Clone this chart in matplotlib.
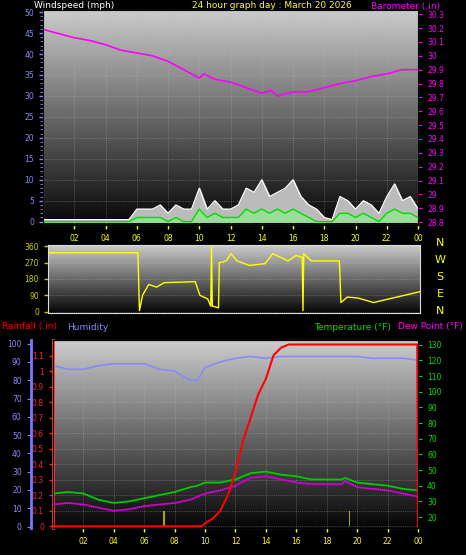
import numpy as np
import matplotlib.pyplot as plt

W, H = 466, 555

# ---- data ----
hours_ticks = [2, 4, 6, 8, 10, 12, 14, 16, 18, 20, 22, 24]
hour_labels = ['02', '04', '06', '08', '10', '12', '14', '16', '18', '20', '22', '00']

wind_t = np.arange(0, 24.01, 0.5)
gust = [0.5, 0.5, 0.5, 0.5, 0.5, 0.5, 0.5, 0.5, 0.5, 0.5, 0.5, 0.5, 3, 3, 3, 4, 2, 4, 3, 3, 8, 3, 5, 3, 3, 4,
        8, 7, 10, 6, 7, 8, 10, 6, 4, 3, 1, 0.5, 6, 5, 3, 5, 4, 2, 6, 9, 5, 6, 3]
avg = [0, 0, 0, 0, 0, 0, 0, 0, 0, 0, 0, 0, 1, 1, 1, 1, 0, 1, 0, 0, 3, 1, 2, 1, 1, 1,
       3, 2, 3, 2, 3, 2, 3, 2, 1, 0, 0, 0, 2, 2, 1, 2, 1, 0, 2, 3, 2, 2, 1]

baro_t = [0, 1, 2, 3, 4, 5, 6, 7, 8, 9, 10, 10.3, 11, 12, 13, 14, 14.6, 15, 16, 17, 18, 19, 20, 21, 22, 23, 24]
baro = [30.19, 30.16, 30.13, 30.11, 30.08, 30.04, 30.02, 30.00, 29.96, 29.90, 29.84, 29.87, 29.83, 29.81,
        29.77, 29.73, 29.75, 29.71, 29.74, 29.74, 29.77, 29.80, 29.82, 29.85, 29.87, 29.90, 29.90]

dir_t = [0, 5.8, 5.9, 6.1, 6.5, 7, 7.5, 9.5, 9.8, 10.3, 10.5, 10.55, 10.6, 10.65, 11, 11.05, 11.5, 11.8,
         12.2, 13, 14, 14.5, 15, 15.5, 16, 16.4, 16.45, 16.5, 17, 18.8, 18.9, 19.3, 20, 21, 22, 23, 24]
wdir = [325, 325, 5, 90, 150, 135, 160, 165, 90, 70, 30, 360, 30, 30, 20, 270, 280, 320,
        280, 255, 265, 320, 300, 280, 310, 300, 5, 320, 280, 280, 50, 80, 75, 50, 70, 90, 110]

rain_t = [0, 9.8, 10, 10.5, 11, 11.5, 12, 12.5, 13, 13.5, 14, 14.5, 15, 15.5, 16, 23.95, 24]
rain = [0, 0, 0.02, 0.05, 0.1, 0.2, 0.35, 0.55, 0.7, 0.85, 0.95, 1.1, 1.15, 1.17, 1.17, 1.17, 0]

th_t = [0, 1, 2, 3, 4, 5, 6, 7, 8, 9, 9.5, 10, 11, 12, 13, 14, 15, 16, 17, 18, 19, 19.2, 20, 21, 22, 23, 24]
hum = [88, 86, 86, 88, 89, 89, 89, 86, 85, 80, 80, 87, 90, 92, 93, 92, 93, 93, 93, 93, 93, 93, 93, 92, 92, 92, 91]
temp = [35, 36, 35, 31, 29, 30, 32, 34, 36, 39, 40, 42, 42, 44, 48, 49, 47, 46, 44, 44, 44, 45, 42, 41, 40, 38, 37]
dew = [28, 29, 28, 26, 24, 25, 27, 28, 29, 31, 33, 35, 37, 40, 45, 46, 44, 42, 41, 41, 41, 43, 39, 38, 37, 35, 33]

strikes = [7.3, 19.5]

fig = plt.figure(figsize=(W / 100, H / 100), dpi=100, facecolor='black')


def px_axes(x0, y0, x1, y1):
    return fig.add_axes([x0 / W, 1 - y1 / H, (x1 - x0) / W, (y1 - y0) / H])


def style(ax, color):
    ax.set_facecolor('black')
    grad = np.linspace(0.8, 0.02, 256).reshape(-1, 1)
    ax.imshow(grad, cmap='gray', vmin=0, vmax=1, aspect='auto', extent=[0, 1, 0, 1],
              transform=ax.transAxes, zorder=0)
    for s in ax.spines.values():
        s.set_color('#dddddd')
    ax.tick_params(colors=color, labelsize=5.5, length=3, width=1)
    ax.set_xlim(0, 24)
    ax.grid(True, color='#bbbbbb', ls=':', lw=0.5, alpha=0.6)


# ---- wind / barometer ----
ax1 = px_axes(43, 10, 418, 225)
style(ax1, '#8888ff')
ax1.fill_between(wind_t, gust, color='#bbbbbb', zorder=2)
ax1.plot(wind_t, gust, color='white', lw=0.8, zorder=3)
ax1.fill_between(wind_t, avg, color='#99dd99', zorder=4)
ax1.plot(wind_t, avg, color='#00dd00', lw=1, zorder=5)
ax1.set_ylim(-0.8, 50.5)
ax1.set_yticks(range(0, 51, 5))
ax1.set_yticks(range(0, 51, 1), minor=True)
ax1.tick_params(axis='y', which='minor', colors='#8888ff', length=2)
ax1.set_xticks(hours_ticks)
ax1.set_xticklabels(hour_labels, color='yellow')
ax1.tick_params(axis='x', colors='yellow')
ax1b = ax1.twinx()
ax1b.plot(baro_t, baro, color='#ff00ff', lw=1.2)
ax1b.set_ylim(28.78, 30.33)
ax1b.set_yticks(np.round(np.arange(28.8, 30.31, 0.1), 1))
ax1b.set_yticklabels(['%g' % v for v in np.round(np.arange(28.8, 30.31, 0.1), 1)])
ax1b.tick_params(colors='#ff00ff', labelsize=5.5, length=3)
ax1b.set_xlim(0, 24)
fig.text(34 / W, 1 - 6 / H, 'Windspeed (mph)', color='white', fontsize=6.5, va='center')
fig.text(272 / W, 1 - 6 / H, '24 hour graph day : March 20 2026', color='yellow', fontsize=6.5,
         va='center', ha='center')
fig.text(440 / W, 1 - 6 / H, 'Barometer (.in)', color='#ff00ff', fontsize=6.5, va='center', ha='right')

# ---- wind direction ----
ax2 = px_axes(48, 245, 420, 313)
style(ax2, '#cccc00')
ax2.plot(dir_t, wdir, color='yellow', lw=1)
ax2.set_ylim(-8, 368)
ax2.set_yticks([0, 90, 180, 270, 360])
ax2.set_xticks([])
for i, lab in enumerate(['N', 'W', 'S', 'E', 'N']):
    fig.text(440 / W, 1 - (243 + i * 17) / H, lab, color='yellow', fontsize=8, ha='center', va='center')

# ---- rain / humidity / temperature ----
ax3 = px_axes(53, 340, 418, 528)
style(ax3, '#ff2020')
ax3.bar(strikes, [0.1, 0.1], width=0.08, color='#aaaa00', zorder=2)
ax3.set_ylim(-0.01, 1.2)
ax3.set_yticks(np.round(np.arange(0, 1.11, 0.1), 1))
ax3.set_yticklabels(['%g' % v for v in np.round(np.arange(0, 1.11, 0.1), 1)])
ax3.spines['left'].set_color('#ff4040')
ax3.spines['left'].set_linewidth(2)
ax3.set_xticks(hours_ticks)
ax3.set_xticklabels(hour_labels, color='yellow')
ax3.tick_params(axis='x', colors='yellow')

axh = ax3.twinx()
axh.spines['left'].set_position(('outward', 16))
axh.spines['left'].set_color('#7777ff')
axh.spines['left'].set_linewidth(2)
axh.yaxis.set_label_position('left')
axh.yaxis.set_ticks_position('left')
axh.plot(th_t, hum, color='#8888ff', lw=1.2, zorder=3)
axh.set_ylim(-0.8, 102)
axh.set_yticks(range(0, 101, 10))
axh.tick_params(colors='#8888ff', labelsize=5.5, length=3)
axh.set_xlim(0, 24)

axt = ax3.twinx()
axt.plot(th_t, temp, color='#00cc00', lw=1.3)
axt.plot(th_t, dew, color='#cc00cc', lw=1.3)
axt.plot(rain_t, [r * 120 / 1.21 + 14.1 for r in rain], color='red', lw=1.5, zorder=5)
axt.set_ylim(13, 133)
axt.set_yticks(range(20, 131, 10))
axt.tick_params(colors='#00dd00', labelsize=5.5, length=3)
axt.set_xlim(0, 24)

fig.text(2 / W, 1 - 327 / H, 'Rainfall (.in)', color='red', fontsize=6.5, va='center')
fig.text(67 / W, 1 - 327 / H, 'Humidity', color='#8888ff', fontsize=6.5, va='center')
fig.text(391 / W, 1 - 327 / H, 'Temperature (°F)', color='#00dd00', fontsize=6.5, va='center', ha='right')
fig.text(463 / W, 1 - 327 / H, 'Dew Point (°F)', color='#ff00ff', fontsize=6.5, va='center', ha='right')

fig.savefig('out.png', dpi=100, facecolor='black')
